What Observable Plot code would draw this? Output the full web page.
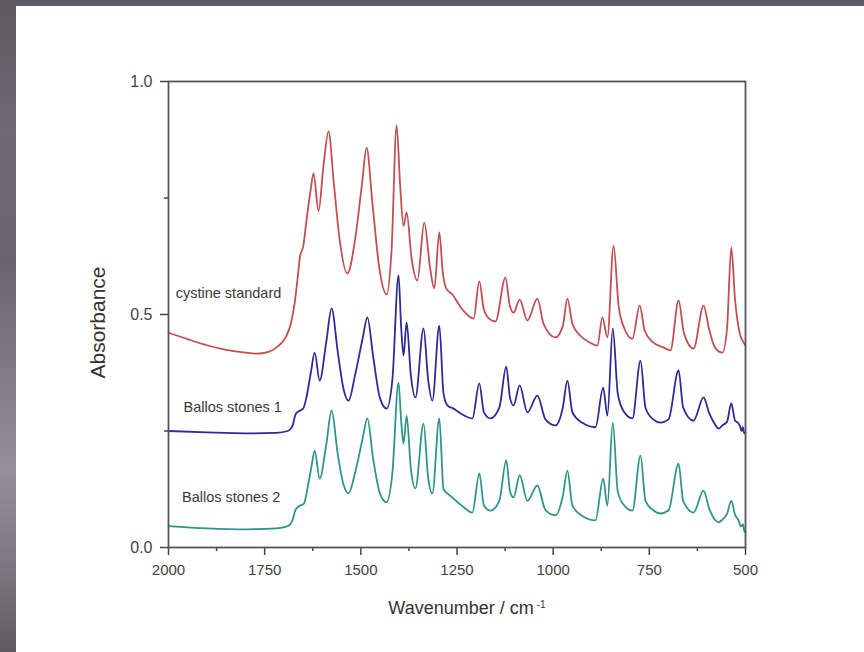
<!DOCTYPE html>
<html><head><meta charset="utf-8">
<script src="https://cdn.jsdelivr.net/npm/d3@7"></script>
<script src="https://cdn.jsdelivr.net/npm/@observablehq/plot@0.6"></script>
<style>
html,body{margin:0;padding:0;width:864px;height:652px;overflow:hidden;}
body{background:linear-gradient(to bottom,#5d5861 0%,#6f6975 20%,#6a6470 40%,#958f9b 72%,#7b7580 88%,#5f5963 100%);}
#panel{position:absolute;left:16px;top:6px;width:848px;height:646px;background:#fff;}
</style></head><body><div id="panel"></div>
<script>
// [wavenumber (cm-1), absorbance]
const cystine = [[2000,0.461],[1950,0.447],[1900,0.434],[1850,0.424],[1800,0.418],[1770,0.416],[1740,0.42],[1715,0.432],[1695,0.452],[1682,0.48],[1672,0.525],[1664,0.58],[1658,0.625],[1650,0.645],[1640,0.71],[1630,0.77],[1623,0.803],[1610,0.722],[1597,0.82],[1584,0.893],[1570,0.78],[1555,0.66],[1535,0.588],[1515,0.66],[1497,0.78],[1485,0.858],[1470,0.74],[1452,0.6],[1433,0.543],[1420,0.64],[1407,0.906],[1398,0.78],[1389,0.69],[1381,0.719],[1368,0.62],[1353,0.573],[1335,0.697],[1320,0.6],[1309,0.556],[1296,0.676],[1287,0.59],[1278,0.556],[1262,0.543],[1240,0.515],[1220,0.497],[1207,0.491],[1192,0.571],[1180,0.51],[1165,0.49],[1150,0.485],[1124,0.579],[1113,0.52],[1103,0.504],[1087,0.532],[1067,0.487],[1041,0.534],[1025,0.48],[994,0.451],[975,0.475],[963,0.534],[950,0.48],[930,0.455],[905,0.44],[885,0.433],[872,0.494],[859,0.451],[843,0.648],[830,0.52],[815,0.47],[794,0.448],[775,0.519],[762,0.465],[740,0.44],[715,0.43],[695,0.423],[674,0.53],[660,0.46],[635,0.427],[609,0.519],[595,0.47],[580,0.43],[560,0.418],[548,0.47],[537,0.644],[527,0.53],[515,0.46],[505,0.44],[500,0.433]];
const ballos1 = [[2000,0.25],[1900,0.247],[1800,0.245],[1720,0.246],[1690,0.25],[1678,0.26],[1670,0.285],[1662,0.292],[1650,0.298],[1642,0.32],[1630,0.375],[1620,0.418],[1607,0.358],[1590,0.44],[1576,0.513],[1560,0.42],[1545,0.34],[1532,0.315],[1515,0.37],[1495,0.45],[1483,0.494],[1468,0.41],[1450,0.32],[1433,0.298],[1418,0.36],[1402,0.584],[1395,0.47],[1389,0.412],[1381,0.483],[1370,0.37],[1358,0.322],[1337,0.47],[1325,0.36],[1314,0.315],[1296,0.476],[1285,0.33],[1275,0.305],[1259,0.298],[1235,0.285],[1210,0.277],[1192,0.352],[1180,0.29],[1163,0.277],[1140,0.3],[1122,0.388],[1112,0.32],[1103,0.305],[1087,0.348],[1067,0.29],[1041,0.326],[1020,0.275],[994,0.262],[975,0.3],[963,0.358],[950,0.29],[925,0.268],[890,0.258],[870,0.343],[859,0.283],[845,0.47],[832,0.33],[815,0.29],[794,0.277],[773,0.401],[760,0.3],[740,0.275],[721,0.268],[700,0.275],[674,0.38],[662,0.3],[635,0.272],[609,0.322],[595,0.29],[580,0.265],[570,0.255],[560,0.262],[548,0.27],[537,0.309],[527,0.272],[520,0.268],[515,0.262],[510,0.25],[507,0.258],[503,0.245],[500,0.247]];
const ballos2 = [[2000,0.046],[1900,0.041],[1800,0.039],[1720,0.041],[1690,0.046],[1678,0.058],[1670,0.08],[1662,0.088],[1648,0.094],[1638,0.13],[1628,0.175],[1620,0.208],[1607,0.148],[1590,0.22],[1576,0.294],[1560,0.2],[1545,0.135],[1532,0.116],[1515,0.16],[1495,0.235],[1483,0.277],[1468,0.19],[1450,0.115],[1433,0.097],[1418,0.16],[1402,0.354],[1395,0.27],[1389,0.223],[1381,0.283],[1370,0.17],[1358,0.127],[1337,0.266],[1325,0.15],[1314,0.116],[1296,0.277],[1285,0.125],[1275,0.116],[1259,0.105],[1235,0.088],[1210,0.075],[1192,0.159],[1180,0.09],[1163,0.079],[1140,0.1],[1122,0.187],[1112,0.12],[1103,0.107],[1087,0.155],[1067,0.1],[1041,0.133],[1020,0.08],[994,0.069],[975,0.11],[963,0.165],[950,0.09],[925,0.068],[890,0.058],[870,0.148],[859,0.09],[845,0.268],[832,0.12],[815,0.09],[794,0.079],[773,0.197],[760,0.1],[740,0.08],[721,0.073],[700,0.08],[674,0.18],[662,0.1],[635,0.075],[609,0.122],[595,0.085],[580,0.06],[570,0.054],[560,0.06],[548,0.072],[537,0.1],[527,0.07],[518,0.058],[512,0.045],[507,0.05],[503,0.035],[500,0.032]];

const seriesNames = ["cystine standard", "Ballos stones 1", "Ballos stones 2"];
const seriesColors = ["#c24f52", "#2c2c96", "#2f9589"];
const labelWn = [1844, 1833, 1837];
const labelA = [0.545, 0.300, 0.107];

const xMajorTicks = [2000, 1750, 1500, 1250, 1000, 750, 500];
const xMinorTicks = [1875, 1625, 1375, 1125, 875, 625];
const yMajorTicks = [0, 0.5, 1.0];
const yMinorTicks = [0.25, 0.75];

const series = [cystine, ballos1, ballos2];

const plot = Plot.plot({
  width: 848, height: 646,
  marginLeft: 152, marginTop: 75, marginRight: 119, marginBottom: 105,
  x: {domain: [2000, 500]},
  y: {domain: [0, 1]},
  style: {fontFamily: "'Liberation Sans', Arial, sans-serif", background: "white", color: "#444"},
  marks: [
    ...series.map((s, i) => Plot.line(s, {x: d => d[0], y: d => d[1], stroke: seriesColors[i], strokeWidth: 1.8, curve: "monotone-x"})),
    Plot.text(seriesNames, {x: labelWn, y: labelA, text: d => d, fontSize: 14.5, fill: "#3a3a3a"}),
    Plot.axisX({ticks: xMajorTicks, tickSize: 8, tickPadding: 9, fontSize: 15, strokeWidth: 1.5, label: null, tickFormat: d => String(d), fill: "#444"}),
    Plot.axisX({ticks: xMinorTicks, tickSize: 4, strokeWidth: 1.5, label: null, tickFormat: () => ""}),
    Plot.axisY({ticks: yMajorTicks, tickSize: 8, tickPadding: 8, fontSize: 16, strokeWidth: 1.5, label: null, tickFormat: d3.format(".1f"), fill: "#444"}),
    Plot.axisY({ticks: yMinorTicks, tickSize: 4, strokeWidth: 1.5, label: null, tickFormat: () => ""}),
    Plot.frame({stroke: "#555", strokeWidth: 1.8}),
    Plot.text(["Wavenumber / cm"], {frameAnchor: "bottom", dy: 61, dx: 10, fontSize: 18, fill: "#333", lineAnchor: "middle", textAnchor: "middle"}),
    Plot.text(["Absorbance"], {frameAnchor: "left", dx: -70, dy: 8, rotate: -90, fontSize: 21, fill: "#333", lineAnchor: "middle", textAnchor: "middle"})
  ]
});
// superscript "-1" on the unit
d3.select(plot).selectAll("text").filter(function() { return this.textContent === "Wavenumber / cm"; })
  .append("tspan").attr("dx", "3").attr("dy", "-0.6em").attr("font-size", "10").text("-1");
document.getElementById("panel").appendChild(plot);
</script></body></html>
